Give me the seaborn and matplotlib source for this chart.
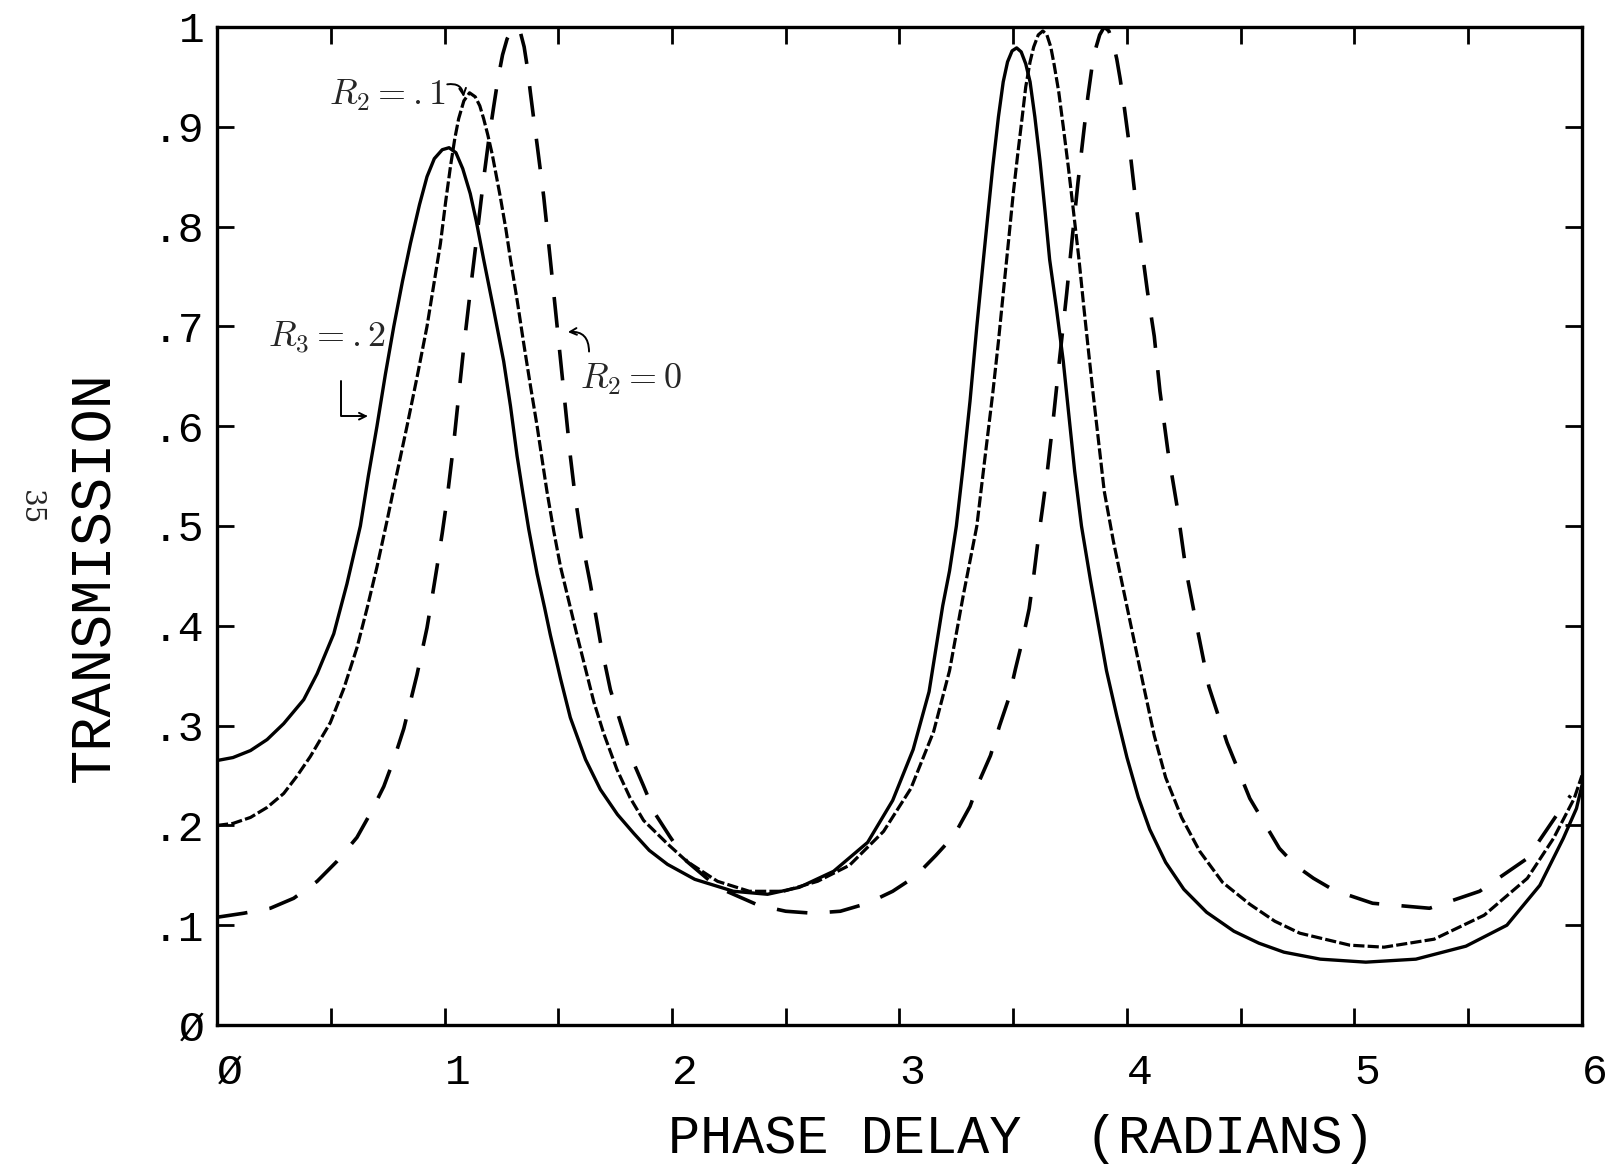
import matplotlib
matplotlib.use("Agg")
import matplotlib.pyplot as plt
import seaborn as sns
import pandas as pd

# ---- data ----
# solid curve (R3 = .2)
phase_r3 = [0.0, 0.07, 0.147, 0.22, 0.293, 0.381, 0.44, 0.513, 0.571, 0.63, 0.665, 0.703, 0.74, 0.777,
            0.815, 0.85, 0.89, 0.923, 0.955, 0.99, 1.02, 1.05, 1.08, 1.113, 1.14, 1.172, 1.215, 1.26,
            1.29, 1.319, 1.345, 1.37, 1.407, 1.44, 1.465, 1.51, 1.553, 1.62, 1.685, 1.76, 1.832, 1.90,
            1.98, 2.10, 2.27, 2.42, 2.56, 2.71, 2.86, 2.97, 3.06, 3.13, 3.19, 3.22, 3.25, 3.28, 3.31,
            3.34, 3.368, 3.39, 3.41, 3.435, 3.456, 3.475, 3.495, 3.515, 3.535, 3.555, 3.574, 3.595,
            3.618, 3.64, 3.66, 3.69, 3.72, 3.745, 3.77, 3.80, 3.84, 3.875, 3.91, 3.955, 4.0, 4.05,
            4.10, 4.17, 4.25, 4.35, 4.47, 4.58, 4.69, 4.85, 5.05, 5.27, 5.49, 5.67, 5.815, 5.918,
            5.976, 6.0]
trans_r3 = [0.265, 0.268, 0.275, 0.286, 0.302, 0.326, 0.352, 0.392, 0.442, 0.50, 0.55, 0.60, 0.652, 0.70,
            0.745, 0.783, 0.822, 0.850, 0.868, 0.877, 0.879, 0.874, 0.858, 0.833, 0.805, 0.767, 0.718, 0.665,
            0.62, 0.570, 0.532, 0.497, 0.452, 0.418, 0.391, 0.347, 0.308, 0.266, 0.236, 0.211, 0.192, 0.175,
            0.161, 0.146, 0.134, 0.131, 0.138, 0.154, 0.183, 0.225, 0.276, 0.334, 0.42, 0.455, 0.50, 0.56, 0.625,
            0.70, 0.765, 0.815, 0.86, 0.91, 0.945, 0.965, 0.976, 0.979, 0.975, 0.963, 0.945, 0.91,
            0.865, 0.815, 0.767, 0.718, 0.665, 0.61, 0.555, 0.50, 0.445, 0.40, 0.355, 0.31, 0.268, 0.228,
            0.196, 0.163, 0.136, 0.113, 0.094, 0.082, 0.073, 0.066, 0.063, 0.066, 0.079, 0.100, 0.140, 0.187,
            0.217, 0.24]

# short-dashed curve (R2 = .1)
phase_r2a = [0.0, 0.07, 0.147, 0.22, 0.293, 0.35, 0.41, 0.498, 0.557, 0.615, 0.66, 0.703, 0.747, 0.79,
             0.835, 0.88, 0.923, 0.955, 0.982, 1.005, 1.026, 1.045, 1.062, 1.085, 1.11, 1.135, 1.155,
             1.172, 1.19, 1.21, 1.245, 1.27, 1.29, 1.32, 1.348, 1.378, 1.407, 1.43, 1.45, 1.48, 1.51,
             1.582, 1.656, 1.70, 1.758, 1.815, 1.875, 1.978, 2.065, 2.20, 2.34, 2.49, 2.64, 2.78, 2.93,
             3.05, 3.15, 3.22, 3.28, 3.34, 3.375, 3.41, 3.435, 3.456, 3.48, 3.50, 3.52, 3.537, 3.555,
             3.574, 3.59, 3.61, 3.63, 3.648, 3.665, 3.68, 3.70, 3.72, 3.742, 3.764, 3.79, 3.81, 3.83,
             3.85, 3.875, 3.90, 3.94, 3.98, 4.07, 4.12, 4.17, 4.24, 4.32, 4.42, 4.54, 4.65, 4.76, 4.98,
             5.13, 5.35, 5.57, 5.76, 5.875, 5.966, 6.0]
trans_r2a = [0.200, 0.202, 0.208, 0.218, 0.232, 0.249, 0.269, 0.303, 0.337, 0.378, 0.418, 0.459, 0.505, 0.552,
             0.60, 0.65, 0.70, 0.745, 0.783, 0.825, 0.86, 0.888, 0.908, 0.926, 0.934, 0.93, 0.921,
             0.908, 0.892, 0.872, 0.83, 0.797, 0.767, 0.725, 0.683, 0.64, 0.60, 0.565, 0.535, 0.495, 0.459,
             0.391, 0.324, 0.292, 0.256, 0.228, 0.205, 0.182, 0.164, 0.144, 0.134, 0.134, 0.144, 0.160, 0.194,
             0.237, 0.294, 0.355, 0.43, 0.50, 0.567, 0.633, 0.685, 0.733, 0.787, 0.833, 0.873, 0.905, 0.94,
             0.965, 0.98, 0.992, 0.996, 0.992, 0.98, 0.962, 0.935, 0.90, 0.86, 0.817, 0.765, 0.72, 0.677,
             0.635, 0.585, 0.535, 0.485, 0.441, 0.343, 0.29, 0.248, 0.208, 0.174, 0.143, 0.121, 0.104, 0.092, 0.080,
             0.078, 0.086, 0.110, 0.147, 0.187, 0.227, 0.25]

# long-dashed curve (R2 = 0)
phase_r2b = [0.0, 0.117, 0.234, 0.337, 0.44, 0.527, 0.615, 0.674, 0.733, 0.777, 0.821, 0.879, 0.923, 0.945,
             0.967, 0.99, 1.011, 1.04, 1.062, 1.084, 1.113, 1.143, 1.172, 1.195, 1.216, 1.235, 1.255,
             1.275, 1.295, 1.315, 1.333, 1.35, 1.365, 1.377, 1.392, 1.407, 1.436, 1.465, 1.495, 1.524,
             1.553, 1.575, 1.60, 1.641, 1.685, 1.729, 1.786, 1.823, 1.874, 1.925, 1.99, 2.065, 2.20, 2.38,
             2.50, 2.62, 2.74, 2.86, 2.97, 3.07, 3.16, 3.24, 3.31, 3.35, 3.40, 3.44, 3.48, 3.51, 3.54,
             3.57, 3.59, 3.61, 3.63, 3.65, 3.676, 3.705, 3.735, 3.76, 3.785, 3.81, 3.828, 3.845, 3.862,
             3.88, 3.90, 3.92, 3.938, 3.955, 3.97, 3.985, 4.01, 4.04, 4.065, 4.09, 4.12, 4.145, 4.18,
             4.22, 4.26, 4.31, 4.36, 4.44, 4.54, 4.67, 4.74, 4.82, 4.91, 5.08, 5.33, 5.55, 5.76, 5.90, 5.95]
trans_r2b = [0.108, 0.112, 0.117, 0.127, 0.144, 0.164, 0.188, 0.212, 0.239, 0.266, 0.297, 0.351, 0.398, 0.428,
             0.459, 0.493, 0.527, 0.582, 0.63, 0.678, 0.735, 0.792, 0.848, 0.888, 0.92, 0.948, 0.972,
             0.988, 0.997, 1.0, 0.995, 0.98, 0.958, 0.935, 0.908, 0.882, 0.83, 0.767, 0.70, 0.635,
             0.57, 0.528, 0.49, 0.442, 0.384, 0.336, 0.294, 0.267, 0.240, 0.212, 0.189, 0.164, 0.138, 0.120,
             0.114, 0.112, 0.114, 0.122, 0.134, 0.149, 0.170, 0.190, 0.219, 0.244, 0.270, 0.300, 0.327, 0.357, 0.385,
             0.417, 0.45, 0.487, 0.52, 0.555, 0.607, 0.67, 0.733, 0.79, 0.845, 0.895, 0.93, 0.958, 0.978,
             0.992, 1.0, 0.996, 0.985, 0.968, 0.948, 0.925, 0.882, 0.822, 0.778, 0.735, 0.69, 0.635, 0.575,
             0.52, 0.455, 0.396, 0.339, 0.283, 0.227, 0.177, 0.160, 0.147, 0.135, 0.122, 0.117, 0.134, 0.167, 0.214, 0.23]

x_tick_values = [0, 1, 2, 3, 4, 5, 6]
x_tick_labels = ["Ø", "1", "2", "3", "4", "5", "6"]
y_tick_values = [0, 0.1, 0.2, 0.3, 0.4, 0.5, 0.6, 0.7, 0.8, 0.9, 1.0]
y_tick_labels = ["Ø", ".1", ".2", ".3", ".4", ".5", ".6", ".7", ".8", ".9", "1"]

# ---- style ----
sns.set_theme(style="ticks")
plt.rcParams['font.family'] = ['Liberation Mono', 'DejaVu Sans Mono', 'DejaVu Sans']
plt.rcParams['mathtext.fontset'] = 'cm'

fig = plt.figure(figsize=(16.21, 11.66), dpi=100)
fig.patch.set_facecolor("white")
ax = fig.add_axes([0.1339, 0.1209, 0.842, 0.856])
ax.set_facecolor("white")

df_r3 = pd.DataFrame({"phase": phase_r3, "trans": trans_r3})
df_r2a = pd.DataFrame({"phase": phase_r2a, "trans": trans_r2a})
df_r2b = pd.DataFrame({"phase": phase_r2b, "trans": trans_r2b})

sns.lineplot(data=df_r3, x="phase", y="trans", ax=ax, color="black", lw=2.4,
             estimator=None, sort=False)
sns.lineplot(data=df_r2a, x="phase", y="trans", ax=ax, color="black", lw=2.3,
             estimator=None, sort=False)
ax.get_lines()[-1].set_dashes((3.5, 1.0))
sns.lineplot(data=df_r2b, x="phase", y="trans", ax=ax, color="black", lw=2.6,
             estimator=None, sort=False)
ax.get_lines()[-1].set_dashes((8.5, 6.2))
for ln in ax.get_lines():
    ln.set_solid_joinstyle("round")
    ln.set_dash_joinstyle("round")

ax.set_xlim(0, 6)
ax.set_ylim(0, 1)

ax.set_xticks(x_tick_values)
ax.set_xticklabels(x_tick_labels)
ax.set_xticks([0.5, 1.5, 2.5, 3.5, 4.5, 5.5], minor=True)
ax.set_yticks(y_tick_values)
ax.set_yticklabels(y_tick_labels)

ax.tick_params(axis="both", which="both", direction="in", length=12, width=2,
               top=True, right=True, colors="black", labelsize=31)
ax.tick_params(axis="x", which="major", pad=20)
ax.tick_params(axis="y", which="major", pad=9)
for lab in ax.get_xticklabels():
    lab.set_ha("left")

for sp in ax.spines.values():
    sp.set_linewidth(2.4)
    sp.set_color("black")
    sp.set_visible(True)

ax.set_xlabel("PHASE DELAY  (RADIANS)", fontsize=38.5, color="black")
ax.xaxis.label.set_va("baseline")
ax.xaxis.set_label_coords(0.589, -0.128)
ax.set_ylabel("TRANSMISSION", fontsize=41, color="black")
ax.yaxis.set_label_coords(-0.070, 0.449)

# annotations
ax.text(0.75, 0.931, r"$R_2 = .1$", fontsize=26, ha="center", va="center")
ax.text(0.484, 0.688, r"$R_3 = .2$", fontsize=26, ha="center", va="center")
ax.text(1.818, 0.647, r"$R_2 = 0$", fontsize=26, ha="center", va="center")

ax.annotate("", xy=(1.085, 0.927), xytext=(1.00, 0.942),
            arrowprops=dict(arrowstyle="->", lw=1.4, color="black",
                            connectionstyle="arc3,rad=-0.6"))
ax.annotate("", xy=(0.675, 0.61), xytext=(0.545, 0.648),
            arrowprops=dict(arrowstyle="->", lw=1.4, color="black",
                            connectionstyle="angle,angleA=90,angleB=0,rad=0"))
ax.annotate("", xy=(1.53, 0.694), xytext=(1.635, 0.672),
            arrowprops=dict(arrowstyle="->", lw=1.4, color="black",
                            connectionstyle="arc3,rad=0.6"))

fig.text(0.019, 0.565, "35", fontsize=20, rotation=-90, ha="center", va="center",
         family="DejaVu Serif")

fig.savefig("out.png", dpi=100, facecolor="white")
